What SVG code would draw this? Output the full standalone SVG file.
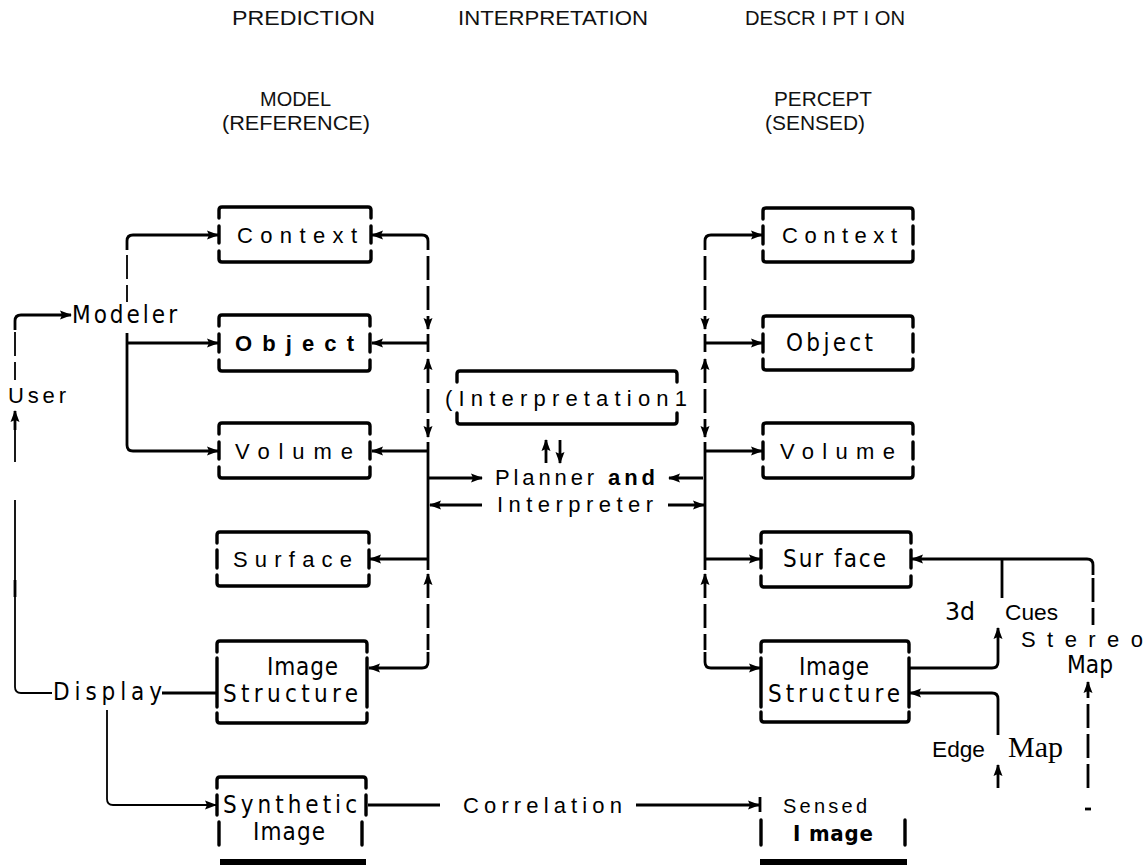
<svg xmlns="http://www.w3.org/2000/svg" width="1147" height="865" viewBox="0 0 1147 865">
<style>
.bg{fill:#fff}
.box{fill:none;stroke:#000;stroke-width:3.4;stroke-linecap:round;stroke-linejoin:round}
.bar{fill:none;stroke:#000;stroke-width:6}
.c{fill:none;stroke:#000;stroke-width:2.8;stroke-linejoin:round}
.d{stroke-dasharray:24 6}
.thin{stroke-width:1.8}
.hd{font-family:"Liberation Sans",Arial,sans-serif;font-size:21px;fill:#111}
.lb{font-family:"Liberation Sans",Arial,sans-serif;font-size:22px;fill:#000}
.b{font-weight:bold}
.tw{font-family:"DejaVu Sans Condensed","DejaVu Sans",sans-serif;font-size:24px;fill:#000}
.sf{font-family:"Liberation Serif","Times New Roman",serif;font-size:30px;fill:#000}
</style>
<defs>
<marker id="ah" viewBox="0 0 12 10" refX="11" refY="5" markerWidth="12" markerHeight="10" markerUnits="userSpaceOnUse" orient="auto-start-reverse"><path d="M0,0.5 L12,5 L0,9.5 L2,5 Z" fill="#000"/></marker>
</defs>
<rect class="bg" x="0" y="0" width="1147" height="865"/>

<g id="headers">
<text class="hd" x="232" y="25" textLength="143" lengthAdjust="spacingAndGlyphs">PREDICTION</text>
<text class="hd" x="458" y="25" textLength="190" lengthAdjust="spacingAndGlyphs">INTERPRETATION</text>
<text class="hd" x="745" y="25" textLength="160" lengthAdjust="spacingAndGlyphs">DESCR I PT I ON</text>
<text class="hd" x="260" y="106" textLength="71" lengthAdjust="spacingAndGlyphs">MODEL</text>
<text class="hd" x="222" y="130" textLength="148" lengthAdjust="spacingAndGlyphs">(REFERENCE)</text>
<text class="hd" x="774" y="106" textLength="98" lengthAdjust="spacingAndGlyphs">PERCEPT</text>
<text class="hd" x="765" y="130" textLength="100" lengthAdjust="spacingAndGlyphs">(SENSED)</text>
</g>

<g id="user"><text class="lb" x="8" y="403" textLength="58" lengthAdjust="spacing">User</text></g>
<g id="modeler"><text class="tw" x="72" y="323" textLength="105" lengthAdjust="spacing">Modeler</text></g>
<g id="display"><text class="tw" x="53" y="700" textLength="109" lengthAdjust="spacing">Display</text></g>

<g id="model-context">
<path class="box" d="M219,218 V210 Q219,207 222,207 H368 Q371,207 371,210 V218 M219,226 V243 M371,226 V243 M219,251 V259 Q219,262 222,262 H368 Q371,262 371,259 V251"/>
<text class="lb" x="237" y="243" textLength="120" lengthAdjust="spacing">Context</text>
</g>
<g id="model-object">
<path class="box" d="M219,326 V318 Q219,315 222,315 H367 Q370,315 370,318 V326 M219,334 V352 M370,334 V352 M219,360 V368 Q219,371 222,371 H367 Q370,371 370,368 V360"/>
<text class="lb b" x="235" y="351" textLength="119" lengthAdjust="spacing">Object</text>
</g>
<g id="model-volume">
<path class="box" d="M219,434 V426 Q219,423 222,423 H367 Q370,423 370,426 V434 M219,442 V459 M370,442 V459 M219,467 V475 Q219,478 222,478 H367 Q370,478 370,475 V467"/>
<text class="lb" x="235" y="459" textLength="118" lengthAdjust="spacing">Volume</text>
</g>
<g id="model-surface">
<path class="box" d="M217,543 V535 Q217,532 220,532 H366 Q369,532 369,535 V543 M217,550 V568 M369,550 V568 M217,575 V583 Q217,586 220,586 H366 Q369,586 369,583 V575"/>
<text class="lb" x="233" y="567" textLength="119" lengthAdjust="spacing">Surface</text>
</g>
<g id="model-image-structure">
<path class="box" d="M217,652 V644 Q217,641 220,641 H364 Q367,641 367,644 V652 M217,658 V707 M367,658 V707 M217,713 V720 Q217,723 220,723 H364 Q367,723 367,720 V713"/>
<text class="tw" x="267" y="675" textLength="71" lengthAdjust="spacing">Image</text>
<text class="tw" x="223" y="702" textLength="135" lengthAdjust="spacing">Structure</text>
</g>
<g id="synthetic-image">
<path class="box" d="M217,788 V780 Q217,777 220,777 H363 Q366,777 366,780 V788 M217,795 V815 M366,795 V815 M219,822 V845 M362,822 V845"/>
<path class="bar" d="M220,862 H366"/>
<text class="tw" x="223" y="813" textLength="134" lengthAdjust="spacing">Synthetic</text>
<text class="tw" x="253" y="840" textLength="72" lengthAdjust="spacing">Image</text>
</g>

<g id="interpretation">
<path class="box" d="M457,382 V374 Q457,371 460,371 H674 Q677,371 677,374 V382 M457,413 V421 Q457,424 460,424 H674 Q677,424 677,421 V413"/>
<text class="lb" x="445" y="406" textLength="242" lengthAdjust="spacing">(Interpretation1</text>
</g>
<g id="planner">
<text class="lb" x="495" y="485" textLength="160" lengthAdjust="spacing">Planner <tspan class="b">and</tspan></text>
<text class="lb" x="497" y="512" textLength="156" lengthAdjust="spacing">Interpreter</text>
</g>

<g id="percept-context">
<path class="box" d="M763,219 V211 Q763,208 766,208 H910 Q913,208 913,211 V219 M763,226 V244 M913,226 V244 M763,251 V259 Q763,262 766,262 H910 Q913,262 913,259 V251"/>
<text class="lb" x="782" y="243" textLength="115" lengthAdjust="spacing">Context</text>
</g>
<g id="percept-object">
<path class="box" d="M763,327 V319 Q763,316 766,316 H910 Q913,316 913,319 V327 M763,334 V352 M913,334 V352 M763,359 V367 Q763,370 766,370 H910 Q913,370 913,367 V359"/>
<text class="tw" x="786" y="351" textLength="87" lengthAdjust="spacing">Object</text>
</g>
<g id="percept-volume">
<path class="box" d="M763,434 V426 Q763,423 766,423 H910 Q913,423 913,426 V434 M763,442 V459 M913,442 V459 M763,467 V475 Q763,478 766,478 H910 Q913,478 913,475 V467"/>
<text class="lb" x="780" y="459" textLength="115" lengthAdjust="spacing">Volume</text>
</g>
<g id="percept-surface">
<path class="box" d="M761,543 V535 Q761,532 764,532 H908 Q911,532 911,535 V543 M761,550 V568 M911,550 V568 M761,576 V584 Q761,587 764,587 H908 Q911,587 911,584 V576"/>
<text class="tw" x="783" y="567" textLength="103" lengthAdjust="spacing">Sur face</text>
</g>
<g id="percept-image-structure">
<path class="box" d="M761,652 V644 Q761,641 764,641 H906 Q909,641 909,644 V652 M761,658 V707 M909,658 V707 M761,712 V719 Q761,722 764,722 H906 Q909,722 909,719 V712"/>
<text class="tw" x="799" y="675" textLength="70" lengthAdjust="spacing">Image</text>
<text class="tw" x="768" y="702" textLength="132" lengthAdjust="spacing">Structure</text>
</g>
<g id="sensed-image">
<path class="box" d="M761,820 V845 M905,820 V845"/>
<path class="bar" d="M760,862 H907"/>
<text class="lb" x="783" y="813" textLength="84" lengthAdjust="spacing" style="font-size:20px">Sensed</text>
<text class="tw b" x="793" y="841" textLength="80" lengthAdjust="spacing" style="font-size:22px">I mage</text>
</g>

<g id="cues">
<text class="tw" x="945" y="620" textLength="30" lengthAdjust="spacingAndGlyphs">3d</text>
<text class="lb" x="1005" y="620" textLength="53" lengthAdjust="spacingAndGlyphs">Cues</text>
</g>
<g id="stereo-map">
<text class="lb" x="1021" y="647" textLength="122" lengthAdjust="spacing">Stereo</text>
<text class="tw" x="1067" y="673" textLength="46" lengthAdjust="spacingAndGlyphs">Map</text>
</g>
<g id="edge-map">
<text class="lb" x="932" y="757" textLength="53" lengthAdjust="spacingAndGlyphs">Edge</text>
<text class="sf" x="1008" y="757" textLength="55" lengthAdjust="spacingAndGlyphs">Map</text>
</g>

<g id="connectors">
<!-- user / modeler / display -->
<path class="c" d="M15,330 V321 Q15,315 21,315 H71" marker-end="url(#ah)"/>
<path class="c thin d" d="M15,332 V380"/>
<path class="c" d="M15,430 V411" marker-end="url(#ah)"/>
<path class="c thin" d="M15,430 V462"/>
<path class="c thin" d="M15,500 V687 Q15,693 21,693 H52"/>
<path class="c" d="M15,580 V597"/>
<path class="c" d="M162,693 H217"/>
<path class="c thin" d="M107,710 V799 Q107,805 113,805 H216" marker-end="url(#ah)"/>
<!-- modeler to model boxes -->
<path class="c" d="M127,250 V241 Q127,235 133,235 H218" marker-end="url(#ah)"/>
<path class="c thin d" d="M127,255 V302"/>
<path class="c" d="M127,333 V445 Q127,451 133,451 H218" marker-end="url(#ah)"/>
<path class="c" d="M127,343 H218" marker-end="url(#ah)"/>
<!-- left bus -->
<path class="c" d="M372,235 H422 Q428,235 428,241 V250" marker-start="url(#ah)"/>
<path class="c d" d="M428,256 V329" marker-end="url(#ah)"/>
<path class="c" d="M428,334 V352"/>
<path class="c" d="M428,343 H372" marker-end="url(#ah)"/>
<path class="c d" d="M428,359 V437" marker-start="url(#ah)" marker-end="url(#ah)"/>
<path class="c" d="M428,442 V570"/>
<path class="c" d="M428,451 H372" marker-end="url(#ah)"/>
<path class="c" d="M428,478 H482" marker-end="url(#ah)"/>
<path class="c" d="M482,505 H430" marker-end="url(#ah)"/>
<path class="c" d="M428,559 H370" marker-end="url(#ah)"/>
<path class="c d" d="M428,574 V650" marker-start="url(#ah)"/>
<path class="c" d="M428,652 V662 Q428,668 422,668 H369" marker-end="url(#ah)"/>
<!-- interpretation up/down -->
<path class="c" d="M546,463 V440" marker-end="url(#ah)"/>
<path class="c" d="M560,440 V463" marker-end="url(#ah)"/>
<!-- right bus -->
<path class="c" d="M762,235 H711 Q705,235 705,241 V250" marker-start="url(#ah)"/>
<path class="c d" d="M705,256 V329" marker-end="url(#ah)"/>
<path class="c" d="M705,334 V352"/>
<path class="c" d="M705,343 H762" marker-end="url(#ah)"/>
<path class="c d" d="M705,359 V437" marker-start="url(#ah)" marker-end="url(#ah)"/>
<path class="c" d="M705,442 V570"/>
<path class="c" d="M705,451 H762" marker-end="url(#ah)"/>
<path class="c" d="M703,478 H669" marker-end="url(#ah)"/>
<path class="c" d="M668,505 H704" marker-end="url(#ah)"/>
<path class="c" d="M705,559 H760" marker-end="url(#ah)"/>
<path class="c d" d="M705,574 V650" marker-start="url(#ah)"/>
<path class="c" d="M705,652 V662 Q705,668 711,668 H760" marker-end="url(#ah)"/>
<!-- correlation -->
<path class="c" d="M368,805 H440"/>
<text class="lb" x="463" y="813" textLength="159" lengthAdjust="spacing">Correlation</text>
<path class="c" d="M636,805 H759" marker-end="url(#ah)"/>
<path class="c" d="M760,797 V812"/>
<!-- cues / stereo / edge -->
<path class="c" d="M1093,575 V565 Q1093,559 1087,559 H912" marker-end="url(#ah)"/>
<path class="c d" d="M1093,578 V625"/>
<path class="c" d="M1002,559 V598"/>
<path class="c" d="M909,668 H992 Q998,668 998,662 V628" marker-end="url(#ah)"/>
<path class="c" d="M998,735 V699 Q998,693 992,693 H910" marker-end="url(#ah)"/>
<path class="c" d="M998,788 V765" marker-end="url(#ah)"/>
<path class="c d" d="M1088,788 V682" marker-end="url(#ah)"/>
<path class="c" d="M1085,809 H1091"/>
</g>
</svg>
